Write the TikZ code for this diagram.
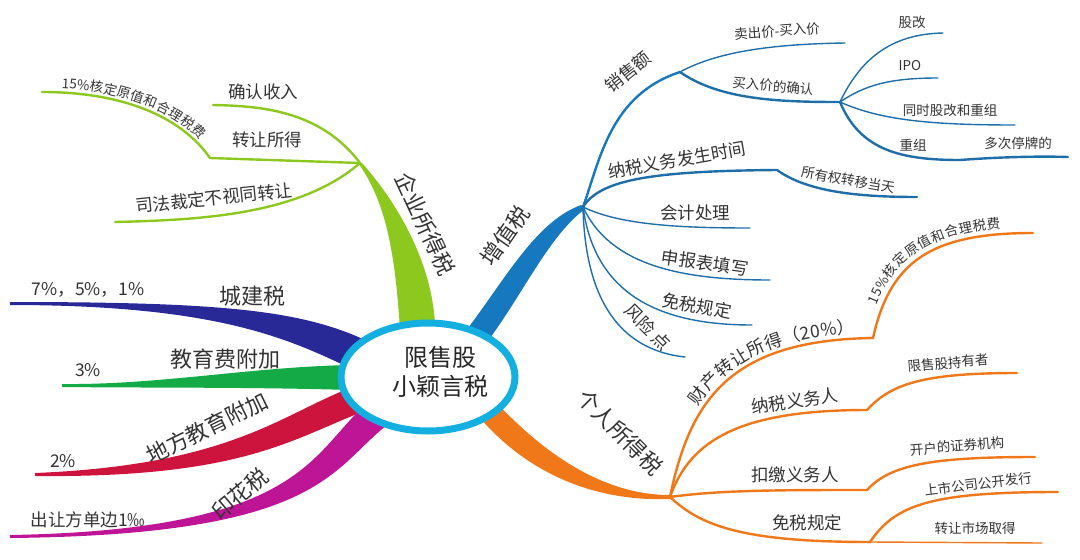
\documentclass[tikz,border=0pt]{standalone}
\usepackage{fontspec}
\newfontfamily\cjk{Noto Sans CJK SC}
\usetikzlibrary{shapes.geometric,decorations.text}
\definecolor{vb}{RGB}{22,120,190}
\definecolor{vbs}{RGB}{30,110,170}
\definecolor{og}{RGB}{240,120,25}
\definecolor{gr}{RGB}{140,200,30}
\definecolor{db}{RGB}{40,40,150}
\definecolor{eg}{RGB}{20,170,70}
\definecolor{rd}{RGB}{205,20,60}
\definecolor{mg}{RGB}{190,20,150}
\definecolor{cy}{RGB}{20,175,225}
\tikzset{
 big/.style={font=\cjk\fontsize{22}{22}\selectfont, inner sep=0, text=black!80},
 mid/.style={font=\cjk\fontsize{17.5}{18}\selectfont, inner sep=0, text=black!80},
 sm/.style={font=\cjk\fontsize{13.5}{14}\selectfont, inner sep=0, text=black!80},
 sub/.style={line width=2.4pt, line cap=round},
 leaf/.style={line width=1.4pt, line cap=round},
}
\begin{document}
\begin{tikzpicture}[x=1pt,y=-1pt]
\useasboundingbox (0,0) rectangle (1080,560);
% ---- left tapered branches
\fill[db] (365,340) .. controls (300,310) and (220,302) .. (10,302) -- (10,305) .. controls (220,305) and (290,340) .. (350,368) -- cycle;
\fill[eg] (350,365) .. controls (250,367) and (160,385) .. (62,384) -- (62,387) .. controls (160,388) and (250,387) .. (350,390) -- cycle;
\fill[rd] (350,388) .. controls (280,415) and (230,465) .. (35,473) -- (35,476) .. controls (240,478) and (290,440) .. (362,412) -- cycle;
\fill[mg] (365,405) .. controls (310,455) and (300,530) .. (10,535) -- (10,538) .. controls (320,535) and (330,470) .. (387,425) -- cycle;
\node[big] (cj) at (252,296) {城建税};
\node[mid] (cjv) at (88,290) {7\%，5\%，1\%};
\node[big] (jy) at (225,359) {教育费附加};
\node[mid] (jyv) at (88,370) {3\%};
\node[big,rotate=26] (df) at (207,428) {地方教育附加};
\node[mid] (dfv) at (63,461) {2\%};
\node[big,rotate=40] (yh) at (240,494) {印花税};
\node[mid] (yhv) at (88,520) {出让方单边1‰};
% ---- green branch
\fill[gr] (400,330) .. controls (395,250) and (385,200) .. (358,163) -- (362,163) .. controls (395,200) and (432,260) .. (435,325) -- cycle;
\node[big,rotate=-65] (qy) at (425,224) {企业所得税};
\draw[gr,sub] (360,163) .. controls (320,110) and (260,106) .. (213,105);
\node[mid] (qr) at (263,92) {确认收入};
\draw[gr,sub] (360,163) -- (210,158) .. controls (180,115) and (120,92) .. (42,92);
\path[decorate,decoration={text along path, text align=center, raise=4pt, text color=black!80,
  text={|\cjk\fontsize{13.5}{14}\selectfont|15{\%}核定原值和合理税费}}]
  (42,92) .. controls (120,92) and (180,115) .. (210,158);
\node[mid] (zr) at (267,140) {转让所得};
\draw[gr,sub] (360,163) .. controls (300,215) and (200,220) .. (115,222);
\node[mid,rotate=6] (sf) at (214,198) {司法裁定不视同转让};
% ---- blue branch
\fill[vb] (465,332) .. controls (505,280) and (535,222) .. (581,205) -- (585,209) .. controls (550,235) and (525,290) .. (490,338) -- cycle;
\node[big,rotate=55] (zz) at (505,236) {增值税};
\draw[vb,sub] (583,207) .. controls (600,160) and (610,95) .. (680,72);
\node[mid,rotate=38] (xs) at (628,72) {销售额};
\draw[vbs,leaf] (680,72) .. controls (720,50) and (780,44) .. (845,43);
\node[sm,rotate=4] (mc) at (777,31) {卖出价-买入价};
\draw[vbs,sub] (680,72) .. controls (720,100) and (780,102) .. (840,102);
\node[sm,rotate=-5] (mr) at (773,86) {买入价的确认};
\draw[vbs,leaf] (840,102) .. controls (860,60) and (890,34) .. (943,33);
\node[sm] (gg) at (912,22) {股改};
\draw[vbs,leaf] (840,102) .. controls (865,85) and (890,78) .. (938,78);
\node[sm] (ipo) at (910,66) {IPO};
\draw[vbs,leaf] (840,102) .. controls (880,120) and (930,125) .. (1015,125);
\node[sm] (tg) at (950,110) {同时股改和重组};
\draw[vbs,sub] (840,102) .. controls (860,150) and (900,160) .. (960,160) .. controls (1000,157) and (1040,156) .. (1068,157);
\node[sm] (cz) at (913,145) {重组};
\node[sm] (dc) at (1018,143) {多次停牌的};
\draw[vbs,sub] (583,207) .. controls (600,180) and (650,171) .. (777,170) .. controls (805,190) and (850,197) .. (917,197);
\node[mid,rotate=10] (ns) at (677,160) {纳税义务发生时间};
\node[sm,rotate=-10] (sy) at (848,180) {所有权转移当天};
\draw[vbs,leaf] (583,207) .. controls (620,225) and (680,228) .. (750,228);
\node[mid] (kj) at (695,213) {会计处理};
\draw[vbs,leaf] (583,207) .. controls (610,265) and (680,280) .. (770,280);
\node[mid,rotate=-8] (sb) at (705,263) {申报表填写};
\draw[vbs,leaf] (583,207) .. controls (595,295) and (660,325) .. (752,325);
\node[mid,rotate=-10] (ms) at (697,306) {免税规定};
\draw[vbs,leaf] (583,207) .. controls (585,300) and (620,350) .. (685,357);
\node[mid,rotate=-45] (fx) at (648,327) {风险 点};
% ---- orange branch
\fill[og] (492,398) .. controls (540,450) and (600,495) .. (670,495) -- (670,499) .. controls (590,502) and (525,470) .. (480,418) -- cycle;
\node[big,rotate=-45] (gr1) at (620,432) {个人所得税};
\draw[og,sub] (670,497) .. controls (690,400) and (730,340) .. (873,338) .. controls (890,262) and (930,233) .. (1033,233);
\path[decorate,decoration={text along path, text align={align=right, right indent=18pt}, raise=5pt, text color=black!80,
  text={|\cjk\fontsize{17.5}{18}\selectfont|财产转让所得（20{\%}）}}]
  (670,497) .. controls (690,400) and (730,340) .. (873,338);
\path[decorate,decoration={text along path, text align=center, raise=6pt, text color=black!80,
  text={|\cjk\fontsize{13.5}{14}\selectfont|15{\%}核定原值和合理税费}}]
  (873,338) .. controls (890,262) and (930,233) .. (1033,233);
\draw[og,sub] (670,497) .. controls (690,440) and (740,410) .. (867,410) .. controls (890,385) and (920,373) .. (1017,373);
\node[mid,rotate=8] (nsr) at (795,401) {纳税义务人};
\node[sm,rotate=5] (xsg) at (948,363) {限售股持有者};
\draw[og,sub] (670,497) .. controls (720,490) and (780,490) .. (867,490) .. controls (890,465) and (930,457) .. (1035,457);
\node[mid] (kd) at (795,475) {扣缴义务人};
\node[sm,rotate=5] (kh) at (957,446) {开户的证券机构};
\draw[og,sub] (670,497) .. controls (700,525) and (740,542) .. (870,542) .. controls (895,505) and (930,492) .. (1058,492);
\draw[og,leaf] (870,542) -- (1042,543);
\node[mid] (msg) at (807,523) {免税规定};
\node[sm,rotate=7] (ss) at (978,484) {上市公司公开发行};
\node[sm] (zrsc) at (975,528) {转让市场取得};
% ---- center
\fill[white] (428,377) ellipse [x radius=87, y radius=54];
\draw[cy,line width=7pt] (428,377) ellipse [x radius=87, y radius=54];
\node[font=\cjk\fontsize{24}{29}\selectfont, align=center, text=black!85] (c) at (440,372) {限售股\\小颖言税};
\end{tikzpicture}
\end{document}
